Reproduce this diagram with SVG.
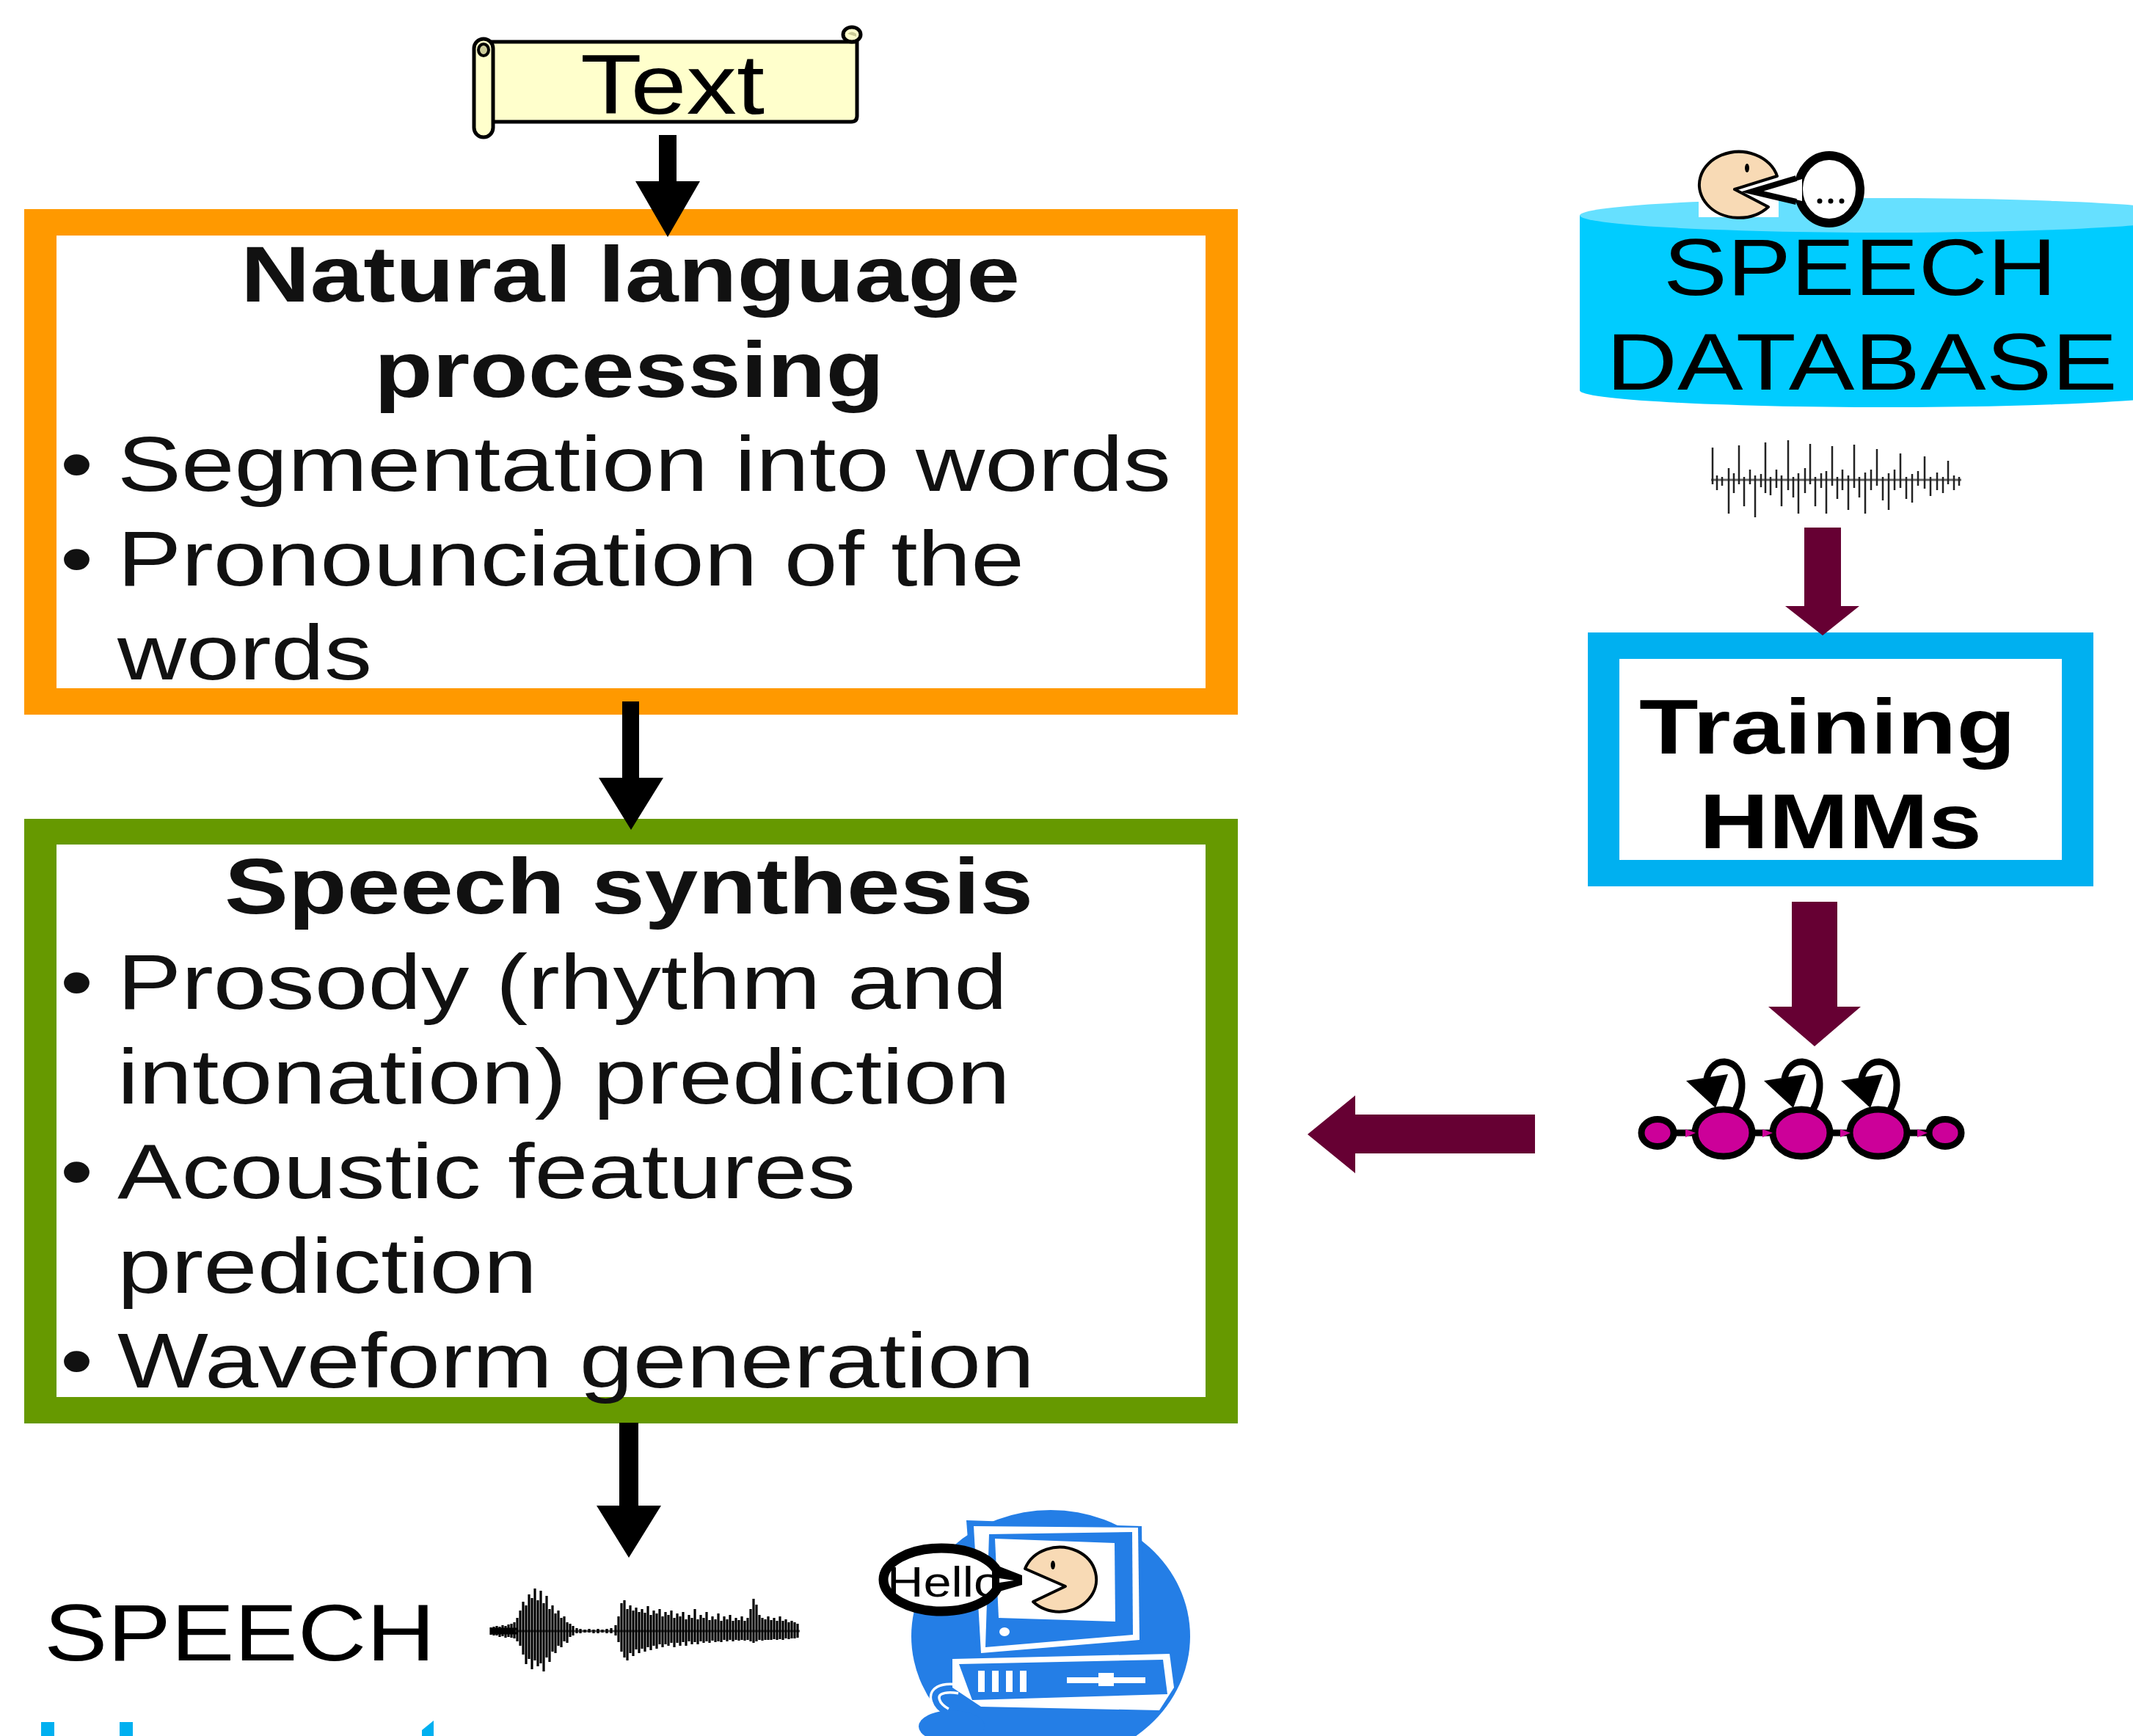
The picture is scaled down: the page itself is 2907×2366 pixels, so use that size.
<svg xmlns="http://www.w3.org/2000/svg" width="2907" height="2366" viewBox="0 0 2907 2366">
<style>
  .t{font-family:"Liberation Sans",Arial,Helvetica,sans-serif;fill:#111}
  .bd{font-weight:bold;font-size:108px}
  .rg{font-size:106px}
  .bl{font-size:106px}
  .ink{fill:#000}
  .plum{fill:#660033}
  .mag{fill:#CC0099;stroke:#000;stroke-width:9}
  .loop{fill:none;stroke:#000;stroke-width:9}
  .wave{stroke:#222;stroke-width:2.5;fill:none}
  .wave2{stroke:#000;stroke-width:3.2;fill:none}
  .face{fill:#F8DAB5;stroke:#000;stroke-width:4;stroke-linejoin:round}
</style>

<!-- Text scroll -->
<g id="text-input">
  <path d="M668 57 H1168 V158 Q1168 166 1160 166 H668 Z" fill="#FFFFCC" stroke="#000" stroke-width="5" stroke-linejoin="round"/>
  <ellipse cx="1161" cy="47" rx="12" ry="10" fill="#FFFFCC" stroke="#000" stroke-width="5"/>
  <path d="M1155 46 Q1161 41 1167 46 L1167 50 Z" fill="#CCCC99"/>
  <rect x="646" y="53" width="26" height="134" rx="13" fill="#FFFFCC" stroke="#000" stroke-width="5"/>
  <ellipse cx="659" cy="68" rx="7" ry="8" fill="#CCCC99" stroke="#000" stroke-width="4"/>
  <text class="t" x="791" y="155" font-size="115" textLength="251" lengthAdjust="spacingAndGlyphs" style="fill:#000">Text</text>
</g>

<!-- Natural language processing box -->
<g id="nlp">
  <rect x="33" y="285" width="1654" height="689" fill="#FF9900"/>
  <rect x="77" y="321" width="1566" height="617" fill="#fff"/>
  <text class="t bd" x="328" y="411" textLength="1062" lengthAdjust="spacingAndGlyphs">Natural language</text>
  <text class="t bd" x="510" y="541" textLength="695" lengthAdjust="spacingAndGlyphs">processing</text>
  <text class="t bl" x="82" y="669" textLength="45" lengthAdjust="spacingAndGlyphs">•</text>
  <text class="t rg" x="160" y="669" textLength="1436" lengthAdjust="spacingAndGlyphs">Segmentation into words</text>
  <text class="t bl" x="82" y="798" textLength="45" lengthAdjust="spacingAndGlyphs">•</text>
  <text class="t rg" x="160" y="798" textLength="1236" lengthAdjust="spacingAndGlyphs">Pronounciation of the</text>
  <text class="t rg" x="160" y="926" textLength="347" lengthAdjust="spacingAndGlyphs">words</text>
</g>

<!-- Speech synthesis box -->
<g id="synthesis">
  <rect x="33" y="1116" width="1654" height="824" fill="#669900"/>
  <rect x="77" y="1151" width="1566" height="753" fill="#fff"/>
  <text class="t bd" x="306" y="1245" textLength="1102" lengthAdjust="spacingAndGlyphs">Speech synthesis</text>
  <text class="t bl" x="82" y="1375" textLength="45" lengthAdjust="spacingAndGlyphs">•</text>
  <text class="t rg" x="160" y="1375" textLength="1213" lengthAdjust="spacingAndGlyphs">Prosody (rhythm and</text>
  <text class="t rg" x="160" y="1504" textLength="1217" lengthAdjust="spacingAndGlyphs">intonation) prediction</text>
  <text class="t bl" x="82" y="1633" textLength="45" lengthAdjust="spacingAndGlyphs">•</text>
  <text class="t rg" x="160" y="1633" textLength="1006" lengthAdjust="spacingAndGlyphs">Acoustic features</text>
  <text class="t rg" x="160" y="1762" textLength="572" lengthAdjust="spacingAndGlyphs">prediction</text>
  <text class="t bl" x="82" y="1891" textLength="45" lengthAdjust="spacingAndGlyphs">•</text>
  <text class="t rg" x="160" y="1891" textLength="1250" lengthAdjust="spacingAndGlyphs">Waveform generation</text>
</g>

<!-- Speech database cylinder -->
<g id="speech-db">
  <path d="M2153 293 V532 A417 23 0 0 0 2987 532 V293 Z" fill="#00CCFF"/>
  <ellipse cx="2570" cy="293.5" rx="417" ry="23.5" fill="#66E0FF"/>
  <rect x="2315" y="200" width="109" height="96" fill="#fff"/>
  <path class="face" d="M2422 240 A54 45 0 1 0 2410 282 L2364 258 Z"/>
  <ellipse cx="2381" cy="229" rx="3" ry="6" fill="#000"/>
  <ellipse cx="2493" cy="258" rx="42" ry="46" fill="#fff" stroke="#000" stroke-width="12"/>
  <polygon points="2456,244 2402,261 2456,274" fill="#fff"/>
  <polyline points="2448,243 2388,261 2448,275" fill="none" stroke="#000" stroke-width="8" stroke-linejoin="miter"/>
  <circle cx="2480" cy="274" r="3.5" fill="#000"/>
  <circle cx="2495" cy="274" r="3.5" fill="#000"/>
  <circle cx="2510" cy="274" r="3.5" fill="#000"/>
  <text class="t" x="2267" y="402" font-size="110" textLength="536" lengthAdjust="spacingAndGlyphs" style="fill:#000">SPEECH</text>
  <text class="t" x="2189" y="531" font-size="110" textLength="697" lengthAdjust="spacingAndGlyphs" style="fill:#000">DATABASE</text>
</g>

<!-- Recorded waveform under the database -->
<g id="db-waveform">
  <path d="M2332 654 H2673" stroke="#666" stroke-width="3"/>
  <path class="wave" d="M2334 610V660 M2340 648V668 M2347 650V662 M2356 638V700 M2363 645V672 M2370 607V660 M2377 650V690 M2385 640V660 M2392 648V705 M2400 646V664 M2406 603V672 M2413 650V675 M2421 640V665 M2428 648V690 M2437 600V668 M2444 650V678 M2451 645V700 M2460 638V672 M2467 605V660 M2474 650V690 M2482 645V665 M2489 642V700 M2497 608V662 M2504 650V680 M2511 640V668 M2519 648V695 M2527 606V665 M2534 650V678 M2542 644V700 M2550 640V668 M2558 612V662 M2566 650V682 M2574 645V695 M2582 640V668 M2590 618V665 M2598 650V680 M2606 646V685 M2614 642V662 M2623 622V666 M2631 650V676 M2640 644V668 M2648 650V672 M2655 628V660 M2663 648V668 M2670 650V662"/>
</g>

<!-- Training box -->
<g id="training">
  <rect x="2164" y="862" width="689" height="346" fill="#00B0F0"/>
  <rect x="2207" y="898" width="603" height="274" fill="#fff"/>
  <text class="t" x="2234" y="1027" font-size="106" font-weight="bold" textLength="513" lengthAdjust="spacingAndGlyphs" style="fill:#000">Training</text>
  <text class="t" x="2316" y="1156" font-size="106" font-weight="bold" textLength="385" lengthAdjust="spacingAndGlyphs" style="fill:#000">HMMs</text>
</g>

<!-- Left-to-right HMM -->
<g id="hmm">
  <path d="M2281 1544 H2633" stroke="#000" stroke-width="9"/>
  <g id="hmm-loops">
    <path class="loop" d="M2365 1512 C2378 1490 2380 1450 2350 1447 C2335 1447 2328 1460 2326 1470"/>
    <polygon points="2298,1473 2355,1464 2338,1510" fill="#000"/>
    <path class="loop" d="M2471 1512 C2484 1490 2486 1450 2456 1447 C2441 1447 2434 1460 2432 1470"/>
    <polygon points="2404,1473 2461,1464 2444,1510" fill="#000"/>
    <path class="loop" d="M2576 1512 C2589 1490 2591 1450 2561 1447 C2546 1447 2539 1460 2537 1470"/>
    <polygon points="2509,1473 2566,1464 2549,1510" fill="#000"/>
  </g>
  <ellipse class="mag" cx="2259" cy="1544" rx="22" ry="18.5"/>
  <ellipse class="mag" cx="2349" cy="1544" rx="39" ry="32"/>
  <ellipse class="mag" cx="2455" cy="1544" rx="39" ry="32"/>
  <ellipse class="mag" cx="2560" cy="1544" rx="39" ry="32"/>
  <ellipse class="mag" cx="2651" cy="1544" rx="22" ry="18.5"/>
  <polygon points="2297,1539 2311,1544 2297,1550" fill="#CC0099"/>
  <polygon points="2402,1539 2416,1544 2402,1550" fill="#CC0099"/>
  <polygon points="2508,1539 2522,1544 2508,1550" fill="#CC0099"/>
  <polygon points="2613,1539 2627,1544 2613,1550" fill="#CC0099"/>
</g>

<!-- Synthesised speech output -->
<g id="speech-output">
  <text class="t" x="60" y="2263" font-size="109" textLength="533" lengthAdjust="spacingAndGlyphs" style="fill:#000">SPEECH</text>
  <path d="M669 2223 H705" stroke="#000" stroke-width="9"/>
  <path d="M700 2223 H1090" stroke="#555" stroke-width="3"/>
  <path class="wave2" d="M669 2218V2228 M673 2217V2229 M677 2216V2229 M681 2217V2231 M685 2215V2230 M689 2216V2232 M693 2214V2231 M697 2213V2232 M701 2211V2233 M705 2205V2237 M709 2195V2243 M713 2183V2255 M717 2188V2268 M721 2173V2261 M725 2178V2275 M729 2165V2263 M733 2181V2271 M737 2168V2267 M741 2185V2278 M745 2175V2259 M749 2193V2265 M753 2188V2251 M757 2199V2253 M761 2195V2243 M765 2205V2245 M769 2203V2237 M773 2211V2239 M777 2213V2231 M781 2216V2229 M786 2219V2226 M791 2220V2226 M797 2221V2225 M803 2220V2225 M809 2221V2226 M815 2220V2226 M821 2221V2225 M827 2220V2226 M833 2219V2226 M839 2215V2229 M843 2203V2238 M847 2185V2251 M851 2181V2259 M855 2193V2263 M859 2188V2253 M863 2195V2257 M867 2191V2248 M871 2197V2253 M875 2193V2247 M879 2198V2251 M883 2189V2245 M887 2201V2249 M891 2195V2243 M895 2199V2247 M899 2193V2241 M903 2203V2245 M907 2197V2241 M911 2201V2243 M915 2195V2239 M919 2205V2245 M923 2199V2239 M927 2203V2243 M931 2197V2238 M935 2207V2243 M939 2201V2237 M943 2205V2241 M947 2193V2238 M951 2207V2241 M955 2201V2237 M959 2205V2239 M963 2197V2237 M967 2208V2239 M971 2203V2236 M975 2207V2238 M979 2199V2237 M983 2209V2238 M987 2203V2235 M991 2207V2237 M995 2201V2235 M999 2209V2237 M1003 2205V2235 M1007 2208V2236 M1011 2203V2235 M1015 2209V2236 M1019 2205V2235 M1023 2193V2237 M1027 2179V2239 M1031 2187V2237 M1035 2201V2235 M1039 2205V2236 M1043 2207V2235 M1047 2203V2235 M1051 2208V2235 M1055 2205V2234 M1059 2209V2235 M1063 2203V2234 M1067 2209V2235 M1071 2207V2233 M1075 2211V2234 M1079 2209V2233 M1083 2211V2233 M1087 2213V2232"/>
  <!-- tops of the next line of text, cut by the lower edge -->
  <rect x="56" y="2347" width="18" height="19" fill="#00B0F0"/>
  <rect x="163" y="2347" width="18" height="19" fill="#00B0F0"/>
  <polygon points="575,2358 591,2345 591,2366 575,2366" fill="#00B0F0"/>
</g>

<!-- Talking computer -->
<g id="computer">
  <ellipse cx="1432" cy="2230" rx="190" ry="172" fill="#247EE6"/>
  <path d="M1307 2302 C1282 2298 1271 2306 1275 2318 C1277 2325 1283 2330 1290 2334" fill="none" stroke="#fff" stroke-width="15"/>
  <path d="M1307 2302 C1282 2298 1271 2306 1275 2318 C1277 2325 1283 2330 1290 2334" fill="none" stroke="#247EE6" stroke-width="8"/>
  <ellipse cx="1297" cy="2353" rx="45" ry="22" fill="#247EE6"/>
  <polygon points="1317,2072 1556,2080 1558,2238 1331,2256" fill="#247EE6"/>
  <polygon points="1327,2080 1551,2082 1553,2235 1337,2253" fill="#fff"/>
  <polygon points="1348,2091 1543,2088 1544,2228 1343,2245" fill="#247EE6"/>
  <polygon points="1356,2097 1519,2103 1520,2210 1361,2205" fill="#fff"/>
  <ellipse cx="1369" cy="2224" rx="7" ry="6" fill="#fff"/>
  <polygon points="1298,2261 1594,2254 1600,2300 1580,2331 1337,2326 1298,2300" fill="#fff"/>
  <polygon points="1307,2268 1585,2262 1591,2309 1325,2317" fill="#247EE6"/>
  <rect x="1333" y="2277" width="9" height="29" fill="#fff"/>
  <rect x="1352" y="2277" width="9" height="29" fill="#fff"/>
  <rect x="1371" y="2277" width="9" height="29" fill="#fff"/>
  <rect x="1390" y="2277" width="9" height="29" fill="#fff"/>
  <rect x="1454" y="2286" width="107" height="8" fill="#fff"/>
  <rect x="1497" y="2280" width="21" height="18" fill="#fff"/>
  <path class="face" d="M1397 2138 A50 44 0 1 1 1408 2183 L1452 2162 Z"/>
  <ellipse cx="1435" cy="2133" rx="3" ry="6" fill="#000"/>
  <ellipse cx="1283" cy="2153" rx="79" ry="43" fill="#fff"/>
  <text class="t" x="1209" y="2176" font-size="57" textLength="156" lengthAdjust="spacingAndGlyphs" style="fill:#000">Hello</text>
  <ellipse cx="1283" cy="2153" rx="79" ry="43" fill="none" stroke="#000" stroke-width="13"/>
  <polygon points="1352,2131 1393,2147 1393,2160 1352,2172" fill="#000"/>
  <polygon points="1362,2151 1382,2154 1362,2157" fill="#fff"/>
</g>

<!-- Connectors -->
<g id="connectors">
  <polygon class="ink" points="898,184 922,184 922,247 954,247 910,323 866,247 898,247"/>
  <polygon class="ink" points="848,956 871,956 871,1060 904,1060 860,1131 816,1060 848,1060"/>
  <polygon class="ink" points="844,1939 870,1939 870,2052 901,2052 857,2123 813,2052 844,2052"/>
  <polygon class="plum" points="2459,719 2509,719 2509,826 2534,826 2484,866 2433,826 2459,826"/>
  <polygon class="plum" points="2442,1229 2504,1229 2504,1372 2536,1372 2473,1426 2410,1372 2442,1372"/>
  <polygon class="plum" points="2092,1519 2092,1572 1847,1572 1847,1599 1782,1546 1847,1493 1847,1519"/>
</g>
</svg>
